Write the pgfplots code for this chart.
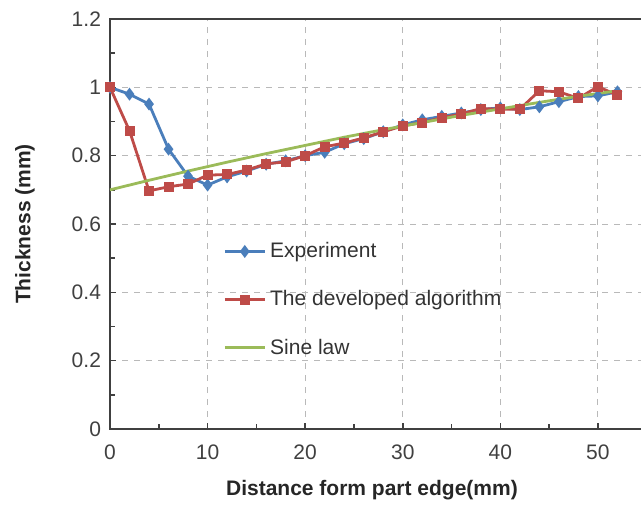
\documentclass[border=0pt]{standalone}
\usepackage{pgfplots}
\pgfplotsset{compat=1.18}
\usepackage{fontspec}
\setmainfont{Liberation Sans}
\definecolor{exblue}{HTML}{4A7EBB}
\definecolor{devred}{HTML}{BE4B48}
\definecolor{sinegreen}{HTML}{9BBB59}
\definecolor{axgray}{HTML}{404040}
\begin{document}
\begin{tikzpicture}
\useasboundingbox (-55pt,-41pt) rectangle (265.5pt,214.5pt);
\begin{axis}[
  at={(0,0)}, anchor=south west,
  scale only axis,
  width=266.4pt, height=205pt,
  xmin=0, xmax=54.6, ymin=0, ymax=1.2,
  xtick={0,10,20,30,40,50},
  ytick={0,0.2,0.4,0.6,0.8,1,1.2},
  minor x tick num=1, minor y tick num=1,
  tick pos=left, tick align=inside,
  major tick length=3pt, minor tick length=2.5pt,
  every tick/.style={axgray, line width=0.8pt},
  axis line style={axgray, line width=1pt},
  grid=major,
  major grid style={gray!55, dashed, line width=0.5pt},
  /pgf/number format/assume math mode=true,
  ticklabel style={font=\fontsize{10.5}{12}\selectfont, text=axgray},
  xticklabel style={yshift=-4.5pt},
  yticklabel style={xshift=-1pt},
  xlabel={\textbf{Distance form part edge(mm)}},
  ylabel={\textbf{Thickness (mm)}},
  label style={font=\fontsize{10.5}{12}\selectfont, text=black!85},
  xlabel style={at={(axis description cs:0.4917,-0.149)}, anchor=center},
  ylabel style={at={(axis description cs:-0.1595,0.5)}, anchor=center},
  legend style={at={(axis description cs:0.212,0.466)}, anchor=north west,
    draw=none, fill=none, font=\fontsize{10.5}{12}\selectfont, text=black!80,
    row sep=11pt, inner sep=0pt},
  legend cell align=left,
  legend image code/.code={%
    \draw[mark repeat=2,mark phase=2,#1] plot coordinates {(0pt,0pt)(10pt,0pt)(20pt,0pt)};},
]
\addplot[exblue, line width=1.4pt, mark=diamond*, mark size=2.6pt, mark options={solid, fill=exblue, line width=0.8pt}]
  coordinates {(0,1.0)(2,0.98)(4,0.951)(6,0.819)(8,0.74)(10,0.714)(12,0.738)(14,0.755)(16,0.775)(18,0.785)(20,0.80)(22,0.81)(24,0.835)(26,0.85)(28,0.87)(30,0.89)(32,0.905)(34,0.915)(36,0.925)(38,0.935)(40,0.94)(42,0.935)(44,0.943)(46,0.958)(48,0.973)(50,0.975)(52,0.987)};
\addlegendentry{Experiment}
\addplot[devred, line width=1.4pt, mark=square*, mark size=2.1pt, mark options={solid, fill=devred, line width=0.8pt}]
  coordinates {(0,1.0)(2,0.873)(4,0.697)(6,0.709)(8,0.717)(10,0.743)(12,0.745)(14,0.758)(16,0.776)(18,0.782)(20,0.80)(22,0.826)(24,0.837)(26,0.852)(28,0.870)(30,0.887)(32,0.897)(34,0.911)(36,0.922)(38,0.938)(40,0.936)(42,0.936)(44,0.99)(46,0.987)(48,0.968)(50,1.002)(52,0.977)};
\addlegendentry{The developed algorithm}
\addplot[sinegreen, line width=1.4pt, no marks]
  coordinates {(0,0.700)(4,0.728)(8,0.755)(12,0.781)(16,0.806)(20,0.830)(24,0.854)(28,0.876)(32,0.897)(36,0.918)(40,0.937)(44,0.956)(48,0.974)(52,0.990)};
\addlegendentry{Sine law}
\end{axis}
\end{tikzpicture}
\end{document}
